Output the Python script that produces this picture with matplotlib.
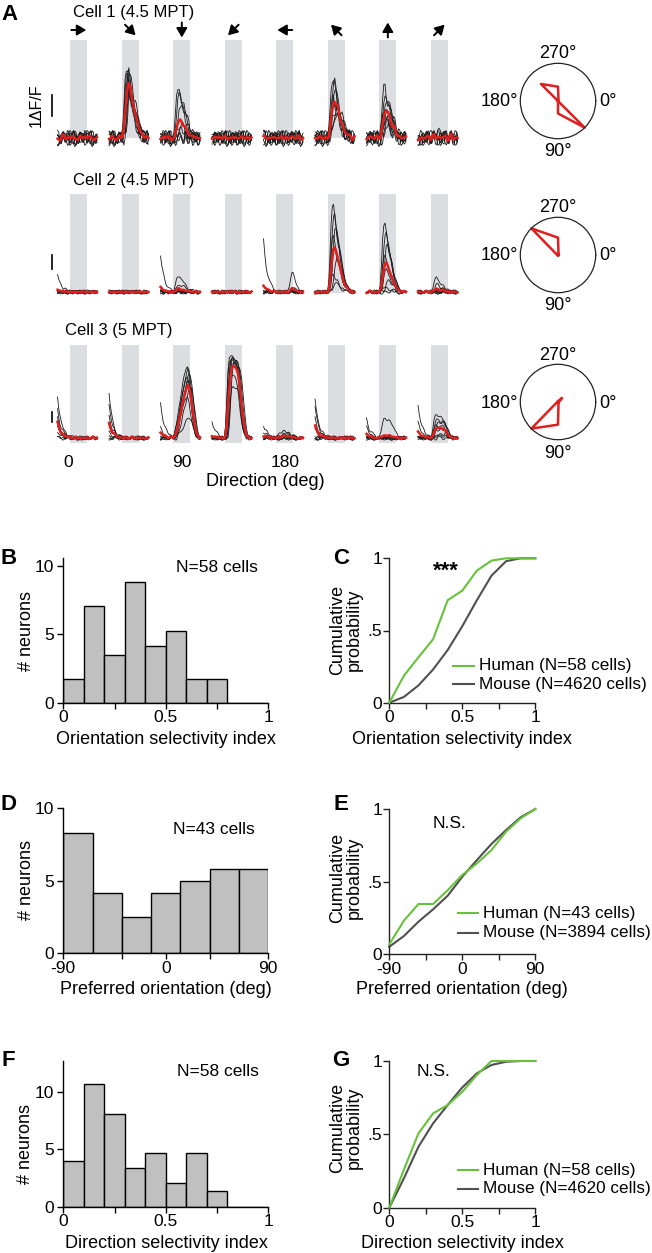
import numpy as np
import matplotlib
matplotlib.use('Agg')
import matplotlib.pyplot as plt
from matplotlib import transforms
from matplotlib.lines import Line2D

plt.rcParams['font.family'] = ['Liberation Sans', 'DejaVu Sans']

# ====================== DATA ======================
directions = [0, 45, 90, 135, 180, 225, 270, 315]
dir_label_idx = [0, 2, 4, 6]
dir_labels = ['0', '90', '180', '270']
cell_titles = ['Cell 1 (4.5 MPT)', 'Cell 2 (4.5 MPT)', 'Cell 3 (5 MPT)']

# response waveforms (normalised), sampled every 0.29 s from -3 s to +6.28 s
tmpl_transient = [0, 0, 0, 0, 0, 0, 0, 0, 0, 0, 0, 0.1, 0.35, 0.75, 0.97, 1.0, 0.85, 0.72,
                  0.66, 0.55, 0.42, 0.32, 0.24, 0.17, 0.11, 0.07, 0.04, 0.02, 0, 0, 0, 0, 0]
tmpl_sustained = [0, 0, 0, 0, 0, 0, 0, 0, 0, 0, 0, 0.15, 0.45, 0.8, 0.97, 1.0, 1.0, 0.99,
                  0.97, 0.95, 0.9, 0.8, 0.62, 0.42, 0.25, 0.13, 0.06, 0.03, 0, 0, 0, 0, 0]
tmpl_ramp = [0, 0, 0, 0, 0, 0, 0, 0, 0, 0, 0, 0.05, 0.12, 0.2, 0.3, 0.42, 0.54, 0.66,
             0.77, 0.87, 0.95, 1.0, 0.98, 0.88, 0.7, 0.5, 0.32, 0.18, 0.08, 0.03, 0, 0, 0]
tmpl_late = [0, 0, 0, 0, 0, 0, 0, 0, 0, 0, 0, 0, 0, 0, 0, 0, 0, 0, 0, 0, 0.1, 0.3,
             0.6, 0.9, 1.0, 0.8, 0.5, 0.3, 0.15, 0.05, 0, 0, 0]
tmpl_carry = [1.0, 0.72, 0.52, 0.38, 0.28, 0.2, 0.14, 0.1, 0.07, 0.05, 0.03, 0.02, 0.01,
              0, 0, 0, 0, 0, 0, 0, 0, 0, 0, 0, 0, 0, 0, 0, 0, 0, 0, 0, 0]
trial_jitter = [0.3, -0.5, 0.8, -0.2, 0.1, -0.9, 0.6, 0.4, -0.7, 0.2, -0.1, 0.9, -0.4, 0.5,
                -0.8, 0.0, 0.7, -0.3, 0.3, -0.6, 0.8, -0.1, -0.5, 0.6, 0.2, -0.9, 0.4, -0.2,
                0.9, -0.7, 0.1, 0.5, -0.4, 0.7, -0.8, 0.3, -0.1, 0.6, -0.6, 0.2, 0.8, -0.3,
                -0.9, 0.4, 0.1, -0.5, 0.7, -0.2, 0.5, -0.8, 0.0, 0.6, -0.4, 0.3, -0.7, 0.9,
                -0.1, 0.2, -0.6, 0.4]
trial_shift = [0, 1, 2, 0, 1, 3, 0, 2]

# peak dF/F of each of 8 trials, per direction
cell1_resp = [[0, 0, 0, 0, 0, 0, 0, 0],
              [3.3, 3.1, 3.0, 2.9, 2.7, 2.6, 2.4, 2.2],
              [2.4, 2.3, 1.6, 0.6, 0.3, 0, 0, 0],
              [0, 0, 0, 0, 0, 0, 0, 0],
              [0, 0, 0, 0, 0, 0, 0, 0],
              [2.8, 2.5, 2.3, 2.0, 1.8, 1.6, 1.4, 1.1],
              [2.4, 2.1, 1.8, 1.5, 1.2, 1.0, 0.8, 0.5],
              [0.4, 0, 0, 0, 0, 0, 0, 0]]
cell1_carry = [[0] * 8 for _ in range(8)]
cell1_tmpl = [0, 0, 0, 0, 0, 0, 0, 0]

cell2_resp = [[0, 0, 0, 0, 0, 0, 0, 0],
              [0, 0, 0, 0, 0, 0, 0, 0],
              [1.2, 0.6, 0, 0, 0, 0, 0, 0],
              [0, 0, 0, 0, 0, 0, 0, 0],
              [1.5, 0.3, 0, 0, 0, 0, 0, 0],
              [6.4, 5.6, 4.6, 4.0, 3.2, 2.4, 1.2, 0.6],
              [5.0, 4.2, 3.4, 2.6, 1.6, 0.8, 0.3, 0],
              [1.0, 0.5, 0.3, 0, 0, 0, 0, 0]]
cell2_carry = [[1.3, 0, 0, 0, 0, 0, 0, 0],
               [0, 0, 0, 0, 0, 0, 0, 0],
               [2.6, 0, 0, 0, 0, 0, 0, 0],
               [0, 0, 0, 0, 0, 0, 0, 0],
               [3.7, 0, 0, 0, 0, 0, 0, 0],
               [0, 0, 0, 0, 0, 0, 0, 0],
               [0, 0, 0, 0, 0, 0, 0, 0],
               [0, 0, 0, 0, 0, 0, 0, 0]]
cell2_tmpl = [0, 0, 0, 0, 3, 0, 0, 0]

cell3_resp = [[0, 0, 0, 0, 0, 0, 0, 0],
              [0, 0, 0, 0, 0, 0, 0, 0],
              [7.1, 6.8, 6.4, 6.0, 5.6, 5.0, 4.0, 2.0],
              [8.2, 8.0, 7.9, 7.8, 7.6, 7.4, 6.2, 5.0],
              [0.6, 0.4, 0.3, 0, 0, 0, 0, 0],
              [0, 0, 0, 0, 0, 0, 0, 0],
              [1.8, 0, 0, 0, 0, 0, 0, 0],
              [2.2, 1.8, 1.5, 1.2, 0.8, 0.4, 0.2, 0]]
cell3_carry = [[4.3, 3.0, 2.0, 1.5, 1.0, 0.5, 0, 0],
               [4.4, 3.2, 2.2, 1.2, 0.6, 0, 0, 0],
               [3.5, 1.0, 0, 0, 0, 0, 0, 0],
               [1.8, 0, 0, 0, 0, 0, 0, 0],
               [1.3, 0.6, 0, 0, 0, 0, 0, 0],
               [3.8, 3.0, 2.0, 0.8, 0, 0, 0, 0],
               [2.0, 1.0, 0, 0, 0, 0, 0, 0],
               [3.2, 1.5, 0, 0, 0, 0, 0, 0]]
cell3_tmpl = [1, 1, 2, 1, 1, 1, 1, 1]

noise_amp = [0.55, 0.22, 0.32]

# polar tuning (normalised response per direction)
tuning_cell1 = [0.0, 1.0, 0.33, 0.0, 0.0, 0.64, 0.38, 0.02]
tuning_cell2 = [0.02, 0.0, 0.02, 0.0, 0.02, 1.0, 0.46, 0.02]
tuning_cell3 = [0.02, 0.02, 0.6, 1.0, 0.02, 0.02, 0.02, 0.15]

# B: orientation selectivity index histogram
osi_edges = [0, 0.1, 0.2, 0.3, 0.4, 0.5, 0.6, 0.7, 0.8, 0.9, 1.0]
osi_counts = [1.73, 7.06, 3.5, 8.83, 4.14, 5.26, 1.73, 1.73, 0, 0]
# C: cumulative OSI
osi_x = [0, 0.1, 0.2, 0.3, 0.4, 0.5, 0.6, 0.7, 0.8, 0.9, 1.0]
osi_cdf_human = [0, 0.187, 0.315, 0.44, 0.71, 0.776, 0.915, 0.984, 1.0, 1.0, 1.0]
osi_cdf_mouse = [0, 0.04, 0.12, 0.23, 0.365, 0.53, 0.71, 0.88, 0.98, 1.0, 1.0]
# D: preferred orientation histogram
po_edges = [-90, -64.29, -38.57, -12.86, 12.86, 38.57, 64.29, 90]
po_counts = [8.32, 4.14, 2.48, 4.14, 4.99, 5.84, 5.84]
# E: cumulative preferred orientation
po_x = [-90, -72, -54, -36, -18, 0, 18, 36, 54, 72, 90]
po_cdf_human = [0.067, 0.23, 0.345, 0.345, 0.44, 0.545, 0.625, 0.717, 0.844, 0.936, 1.0]
po_cdf_mouse = [0.05, 0.124, 0.223, 0.308, 0.402, 0.533, 0.648, 0.759, 0.855, 0.943, 1.0]
# F: direction selectivity index histogram
dsi_edges = [0, 0.1, 0.2, 0.3, 0.4, 0.5, 0.6, 0.7, 0.8, 0.9, 1.0]
dsi_counts = [4.02, 10.7, 8.07, 3.35, 4.72, 2.1, 4.72, 1.37, 0, 0]
# G: cumulative DSI
dsi_x = [0, 0.1, 0.2, 0.3, 0.4, 0.5, 0.6, 0.7, 0.8, 0.9, 1.0]
dsi_cdf_human = [0, 0.26, 0.507, 0.643, 0.70, 0.79, 0.905, 1.0, 1.0, 1.0, 1.0]
dsi_cdf_mouse = [0, 0.2, 0.416, 0.575, 0.70, 0.82, 0.916, 0.973, 0.995, 1.0, 1.0]

legend_C = ['Human (N=58 cells)', 'Mouse (N=4620 cells)']
legend_E = ['Human (N=43 cells)', 'Mouse (N=3894 cells)']
legend_G = ['Human (N=58 cells)', 'Mouse (N=4620 cells)']

# ====================== FIGURE ======================
W, H = 652, 1253
fig = plt.figure(figsize=(W / 100, H / 100), dpi=100)

FS_TICK = 12.5
FS_LAB = 13
FS_ANN = 12.5


def add_ax(l, t, r, b, **kw):
    return fig.add_axes([l / W, 1 - b / H, (r - l) / W, (b - t) / H], **kw)


def ftext(x, y, s, **kw):
    return fig.text(x / W, 1 - y / H, s, **kw)


RED = '#e01f1f'
GREEN = '#66c23a'
MGRAY = '#505050'
BARC = '#dcdde0'
HISTC = '#c0c0c0'

t_trace = np.arange(33) * 0.29 - 3.0
stim_dur = 4.0
block_step = 12.1
px_per_s = 51.5 / block_step
bar0_px = 70.3
t_left = (50 - bar0_px) / px_per_s
t_right = (470 - bar0_px) / px_per_s
templates = [tmpl_transient, tmpl_sustained, tmpl_ramp, tmpl_late]

rows = [
    dict(top=30, bot=160, base=138, scale=21, resp=cell1_resp, carry=cell1_carry,
         tmpl=cell1_tmpl, bar_top=4.67, bar_bot=0.0, sb=(1.05, 2.05)),
    dict(top=185, bot=312, base=292, scale=14, resp=cell2_resp, carry=cell2_carry,
         tmpl=cell2_tmpl, bar_top=7.0, bar_bot=-0.07, sb=(1.64, 2.64)),
    dict(top=335, bot=458, base=438, scale=10, resp=cell3_resp, carry=cell3_carry,
         tmpl=cell3_tmpl, bar_top=9.3, bar_bot=-0.5, sb=(1.63, 2.63)),
]
title_pos = [(73, 12), (73, 180), (65, 331)]

row_axes = []
NJ = len(trial_jitter)
kern = np.array([0.25, 0.5, 0.25])
for c, rw in enumerate(rows):
    ax = add_ax(50, rw['top'], 470, rw['bot'])
    ax.set_xlim(t_left, t_right)
    ax.set_ylim((rw['base'] - rw['bot']) / rw['scale'], (rw['base'] - rw['top']) / rw['scale'])
    ax.axis('off')
    row_axes.append(ax)
    for i in range(8):
        x0 = i * block_step
        ax.bar(x0, rw['bar_top'] - rw['bar_bot'], bottom=rw['bar_bot'], width=stim_dur,
               align='edge', color=BARC, lw=0, zorder=0)
        trials = []
        for k in range(8):
            tm = np.roll(np.array(templates[rw['tmpl'][i]]), trial_shift[k])
            raw = np.array([trial_jitter[(j // 2 + 7 * k + 5 * i + 17 * c) % NJ]
                            for j in range(len(t_trace))])
            jit = np.convolve(raw, kern, mode='same')
            y = rw['resp'][i][k] * tm + rw['carry'][i][k] * np.array(tmpl_carry) + noise_amp[c] * jit
            trials.append(y)
            ax.plot(x0 + t_trace, y, color='#1a1a1a', lw=0.6, zorder=2, clip_on=False)
        ax.plot(x0 + t_trace, np.mean(trials, axis=0), color=RED, lw=1.8, zorder=3, clip_on=False)
    # scale bar
    ax.plot([-4.3, -4.3], rw['sb'], color='k', lw=1.2, clip_on=False)
    ftext(title_pos[c][0], title_pos[c][1], cell_titles[c], fontsize=12, ha='left', va='center')

# scale bar label
ax1 = row_axes[0]
ax1.text(-7.9, 1.55, '1ΔF/F', rotation=90, ha='center', va='center', fontsize=11.5, clip_on=False)

# direction arrows
yc = (rows[0]['base'] - 30) / rows[0]['scale']
for i, d in enumerate(directions):
    xc = i * block_step + stim_dur / 2
    cpx = ax1.transData.transform((xc, yc))
    th = np.deg2rad(d)
    v = np.array([np.cos(th), -np.sin(th)]) * 7.5
    head = ax1.transData.inverted().transform(cpx + v)
    tail = ax1.transData.inverted().transform(cpx - v)
    ax1.annotate('', xy=head, xytext=tail, annotation_clip=False,
                 arrowprops=dict(arrowstyle='-|>,head_length=0.55,head_width=0.32', color='k',
                                 lw=1.4, shrinkA=0, shrinkB=0))

# direction tick labels under cell 3
ax3 = row_axes[2]
trans3 = transforms.blended_transform_factory(ax3.transData, fig.transFigure)
label_off = [-2.5, 0, 0, 0]
for j, (bi, lab) in enumerate(zip(dir_label_idx, dir_labels)):
    ax3.text(bi * block_step + stim_dur / 2 + label_off[j], 1 - 463 / H, lab, transform=trans3,
             ha='center', va='center', fontsize=12.5, clip_on=False)
ftext(265, 482, 'Direction (deg)', fontsize=FS_LAB, ha='center', va='center')

# polar plots
polar_cy = [101, 255, 402]
tunings = [tuning_cell1, tuning_cell2, tuning_cell3]
R = 37.7
PCX = 558
for c in range(3):
    cy = polar_cy[c]
    axp = add_ax(PCX - R, cy - R, PCX + R, cy + R, projection='polar')
    axp.set_theta_zero_location('E')
    axp.set_theta_direction(-1)
    th = np.deg2rad(directions + [360])
    r = tunings[c] + [tunings[c][0]]
    axp.plot(th, r, color=RED, lw=1.8, clip_on=False)
    axp.set_ylim(0, 1)
    axp.set_xticks([])
    axp.set_yticks([])
    axp.grid(False)
    axp.spines['polar'].set_linewidth(0.9)
    axp.spines['polar'].set_color('#222222')
    ftext(PCX, cy - 47, '270°', ha='center', va='center', fontsize=13)
    ftext(PCX, cy + 51, '90°', ha='center', va='center', fontsize=13)
    ftext(PCX + 41, cy + 1, '0°', ha='left', va='center', fontsize=13)
    ftext(PCX - 40, cy + 1, '180°', ha='right', va='center', fontsize=13)


# ---------------- lower panels ----------------
def style(ax, color='k', ypad=3.5):
    for s in ['top', 'right']:
        ax.spines[s].set_visible(False)
    for s in ['left', 'bottom']:
        ax.spines[s].set_linewidth(1.0)
        ax.spines[s].set_color(color)
    ax.tick_params(direction='out', length=4, width=1.0, labelsize=FS_TICK, color=color)
    ax.tick_params(axis='x', pad=1.5)
    ax.tick_params(axis='y', pad=ypad)


def hist_panel(l, t, r, b, edges, counts, ylim, xticks, xlabels, yticks):
    ax = add_ax(l, t, r, b)
    widths = np.diff(edges)
    ax.bar(edges[:-1], counts, width=widths, align='edge', color=HISTC, edgecolor='k', lw=1.0,
           zorder=2)
    ax.set_xlim(edges[0], edges[-1])
    ax.set_ylim(*ylim)
    ax.set_xticks(xticks)
    ax.set_xticklabels(xlabels)
    ax.set_yticks(yticks)
    ax.set_yticklabels([str(v) for v in yticks])
    style(ax, 'k', 3.0)
    return ax


def cdf_panel(l, t, r, b, x, yh, ym, xlim, xticks, xlabels):
    ax = add_ax(l, t, r, b)
    ax.plot(x, ym, color=MGRAY, lw=1.5, zorder=2, clip_on=False)
    ax.plot(x, yh, color=GREEN, lw=1.5, zorder=3, clip_on=False)
    ax.set_xlim(*xlim)
    ax.set_ylim(0, 1)
    ax.set_xticks(xticks)
    ax.set_xticklabels(xlabels)
    ax.set_yticks([0, 0.5, 1])
    ax.set_yticklabels(['0', '.5', '1'])
    style(ax, '#222222', 1.0)
    return ax


def legend_manual(x0, x1, xt, ys, labels):
    for y, lab, col in zip(ys, labels, [GREEN, MGRAY]):
        fig.add_artist(Line2D([x0 / W, x1 / W], [1 - y / H, 1 - y / H], color=col, lw=1.5))
        ftext(xt, y, lab, ha='left', va='center', fontsize=12.3)


# B
hist_panel(63.3, 558, 268.3, 702.7, osi_edges, osi_counts, (0, 10.55),
           [0, 0.25, 0.5, 0.75, 1], ['0', '', '0.5', '', '1'], [0, 5, 10])
ftext(217, 567, 'N=58 cells', ha='center', va='center', fontsize=FS_ANN)
ftext(27, 631, '# neurons', rotation=90, ha='center', va='center', fontsize=FS_LAB)
ftext(166, 740, 'Orientation selectivity index', ha='center', va='center', fontsize=FS_LAB)
# C
cdf_panel(389.3, 558.3, 535.3, 702.7, osi_x, osi_cdf_human, osi_cdf_mouse, (0, 1),
          [0, 0.25, 0.5, 0.75, 1], ['0', '', '0.5', '', '1'])
ftext(446, 571, '***', ha='center', va='center', fontsize=16, fontweight='bold')
legend_manual(453, 474, 479, [666, 684], legend_C)
ftext(346, 630, 'Cumulative\nprobability', rotation=90, ha='center', va='center', fontsize=FS_LAB,
      linespacing=1.0)
ftext(462, 740, 'Orientation selectivity index', ha='center', va='center', fontsize=FS_LAB)

# D
hist_panel(63.3, 808.3, 268.3, 953.3, po_edges, po_counts, (0, 10),
           [-90, -38.57, 0, 38.57, 90], ['-90', '', '0', '', '90'], [0, 5, 10])
ftext(214, 829, 'N=43 cells', ha='center', va='center', fontsize=FS_ANN)
ftext(27, 880, '# neurons', rotation=90, ha='center', va='center', fontsize=FS_LAB)
ftext(166, 990, 'Preferred orientation (deg)', ha='center', va='center', fontsize=FS_LAB)
# E
cdf_panel(389.3, 809, 535.3, 954, po_x, po_cdf_human, po_cdf_mouse, (-90, 90),
          [-90, -45, 0, 45, 90], ['-90', '', '0', '', '90'])
ftext(450, 823, 'N.S.', ha='center', va='center', fontsize=FS_ANN)
legend_manual(457.7, 478.3, 483, [913.3, 932.7], legend_E)
ftext(346, 878, 'Cumulative\nprobability', rotation=90, ha='center', va='center', fontsize=FS_LAB,
      linespacing=1.0)
ftext(462, 990, 'Preferred orientation (deg)', ha='center', va='center', fontsize=FS_LAB)

# F
hist_panel(63.3, 1060.7, 268.3, 1206.7, dsi_edges, dsi_counts, (0, 12.76),
           [0, 0.25, 0.5, 0.75, 1], ['0', '', '0.5', '', '1'], [0, 5, 10])
ftext(218, 1071, 'N=58 cells', ha='center', va='center', fontsize=FS_ANN)
ftext(26, 1144, '# neurons', rotation=90, ha='center', va='center', fontsize=FS_LAB)
ftext(166, 1243, 'Direction selectivity index', ha='center', va='center', fontsize=FS_LAB)
# G
cdf_panel(389.3, 1061, 535.3, 1207.7, dsi_x, dsi_cdf_human, dsi_cdf_mouse, (0, 1),
          [0, 0.25, 0.5, 0.75, 1], ['0', '', '0.5', '', '1'])
ftext(434, 1071, 'N.S.', ha='center', va='center', fontsize=FS_ANN)
legend_manual(457.7, 478.3, 483, [1170, 1189], legend_G)
ftext(346, 1128, 'Cumulative\nprobability', rotation=90, ha='center', va='center', fontsize=FS_LAB,
      linespacing=1.0)
ftext(462, 1243, 'Direction selectivity index', ha='center', va='center', fontsize=FS_LAB)

# panel letters
for lab, (x, y) in zip('ABCDEFG', [(9, 15), (9, 558), (341, 558), (9, 805), (341, 805),
                                   (8, 1060), (341, 1060)]):
    ftext(x, y, lab, ha='center', va='center', fontsize=16, fontweight='bold')

fig.savefig('out.png', dpi=100)
